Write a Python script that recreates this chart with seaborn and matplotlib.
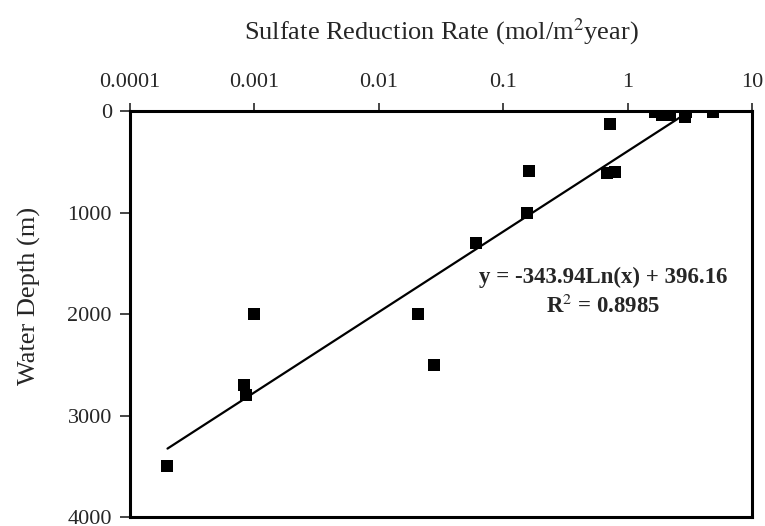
import numpy as np
import pandas as pd
import seaborn as sns
import matplotlib.pyplot as plt
from matplotlib.ticker import FixedLocator, FixedFormatter

# Sulfate reduction rate (mol/m2 year) vs water depth (m)
rate = [0.0002, 0.00082, 0.00086, 0.001, 0.0205, 0.028, 0.06, 0.155, 0.162,
        0.68, 0.79, 0.72, 1.65, 1.9, 2.2, 2.95, 2.9, 4.9]
depth = [3500, 2700, 2800, 2000, 2000, 2500, 1300, 1000, 590,
         610, 600, 130, 10, 40, 40, 10, 60, 10]

fit_slope = -343.94
fit_icept = 396.16
fit_r2 = 0.8985

x_ticks = [0.0001, 0.001, 0.01, 0.1, 1, 10]
x_labels = ["0.0001", "0.001", "0.01", "0.1", "1", "10"]
y_ticks = [0, 1000, 2000, 3000, 4000]

df = pd.DataFrame({"rate": rate, "depth": depth})

# Excel-style log trendline across the data range
fx = np.logspace(np.log10(min(rate)), np.log10(max(rate)), 200)
fit = pd.DataFrame({"rate": fx, "depth": fit_slope * np.log(fx) + fit_icept})

sns.set_style("white")
plt.rcParams['font.family'] = ['Liberation Serif', 'DejaVu Serif']
plt.rcParams['mathtext.fontset'] = 'stix'

fig = plt.figure(figsize=(7.65, 5.26), dpi=100)
ax = fig.add_axes([0.170, 0.017, 0.813, 0.772])

sns.lineplot(data=fit, x="rate", y="depth", color="black", lw=1.6,
             sort=False, ax=ax, zorder=2)
sns.scatterplot(data=df, x="rate", y="depth", marker="s", s=85,
                color="black", edgecolor="black", linewidth=0, ax=ax, zorder=3)

ax.set_xscale("log")
ax.set_xlim(0.0001, 10)
ax.set_ylim(4000, 0)
ax.xaxis.set_major_locator(FixedLocator(x_ticks))
ax.xaxis.set_major_formatter(FixedFormatter(x_labels))
ax.xaxis.set_minor_locator(FixedLocator([]))
ax.set_yticks(y_ticks)
ax.xaxis.tick_top()
ax.xaxis.set_label_position("top")

ax.tick_params(axis="x", which="major", direction="out", length=6, width=1.2,
               labelsize=16, pad=8, top=True, bottom=False)
ax.tick_params(axis="y", direction="out", length=7, width=1.2,
               labelsize=16, pad=6, left=True)

for s in ax.spines.values():
    s.set_linewidth(2.2)
    s.set_color("black")

ax.set_xlabel("Sulfate Reduction Rate (mol/m$^2$year)", fontsize=19, labelpad=24)
ax.set_ylabel("Water Depth (m)", fontsize=19)
ax.yaxis.set_label_coords(-0.143, 0.545)

ax.text(0.76, 0.59, f"y = {fit_slope}Ln(x) + {fit_icept}",
        transform=ax.transAxes, ha="center", va="center",
        fontsize=16.5, fontweight="bold")
ax.text(0.76, 0.52, f"R$^{{2}}$ = {fit_r2}", transform=ax.transAxes,
        ha="center", va="center", fontsize=16.5, fontweight="bold")

fig.savefig("out.png", dpi=100)
